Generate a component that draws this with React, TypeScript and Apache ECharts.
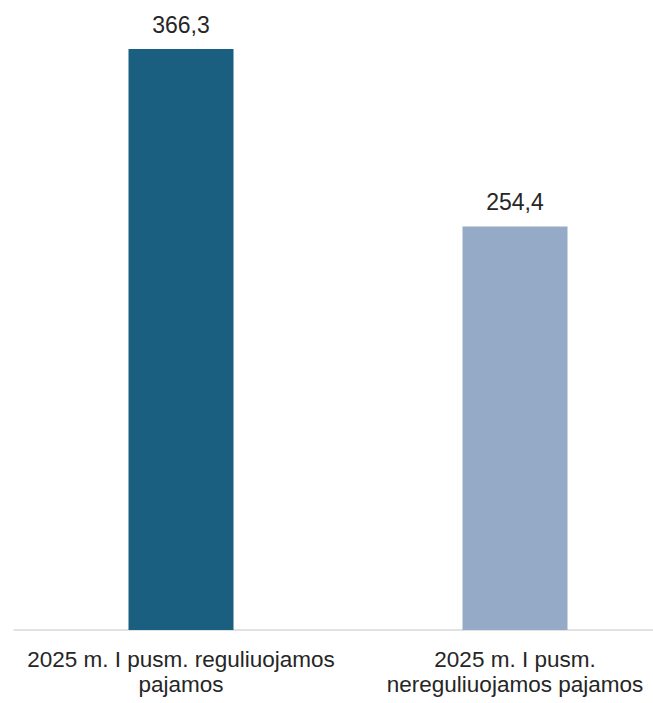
import React, { useEffect, useRef } from "react";
import * as echarts from "echarts";

const categories = [
  "2025 m. I pusm. reguliuojamos\npajamos",
  "2025 m. I pusm.\nnereguliuojamos pajamos",
];
const values = [366.3, 254.4];
const barColors = ["#1a5e80", "#95aac6"];

export default function App() {
  const ref = useRef<HTMLDivElement>(null);
  useEffect(() => {
    if (!ref.current) return;
    const chart = echarts.init(ref.current, undefined, { renderer: "svg" });
    chart.setOption({
      animation: false,
      grid: {
        left: 14,
        top: 49,
        width: 668,
        bottom: 73,
        containLabel: false,
        outerBoundsMode: "none",
      },
      xAxis: {
        type: "category",
        data: categories,
        axisTick: { show: false },
        axisLine: { lineStyle: { color: "#d9d9d9", width: 1.5 } },
        axisLabel: {
          color: "#262626",
          fontSize: 22.5,
          fontFamily: "Liberation Sans, Arial, sans-serif",
          lineHeight: 25,
          margin: 17,
          interval: 0,
        },
      },
      yAxis: {
        type: "value",
        min: 0,
        max: 366.3,
        show: false,
        splitLine: { show: false },
      },
      series: [
        {
          type: "bar",
          barWidth: 105,
          data: values.map((v, i) => ({ value: v, itemStyle: { color: barColors[i] } })),
          label: {
            show: true,
            position: "top",
            distance: 13,
            color: "#262626",
            fontSize: 23,
            fontFamily: "Liberation Sans, Arial, sans-serif",
            formatter: (p: any) => String(p.value).replace(".", ","),
          },
        },
      ],
    });
    return () => chart.dispose();
  }, []);
  return (
    <div
      ref={ref}
      style={{ position: "absolute", left: 0, top: 0, width: 653, height: 703 }}
    />
  );
}
